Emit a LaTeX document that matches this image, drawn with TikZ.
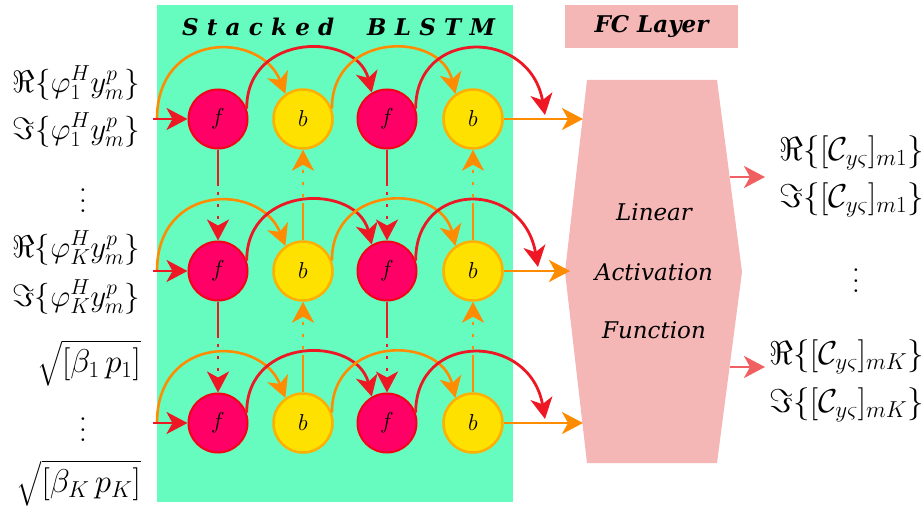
\RequirePackage{fix-cm}
\documentclass[tikz,border=0pt]{standalone}
\usepackage{graphicx}
\usepackage{exscale}
\usepackage{fontspec}
\newfontfamily\djs{DejaVu Serif}
\usetikzlibrary{arrows.meta,calc}
\definecolor{bggreen}{RGB}{102,252,192}
\definecolor{fcpink}{RGB}{245,182,182}
\definecolor{arcred}{RGB}{237,24,36}
\definecolor{arcorange}{RGB}{255,140,0}
\definecolor{ffill}{RGB}{255,0,102}
\definecolor{fborder}{RGB}{245,0,20}
\definecolor{bfill}{RGB}{255,225,0}
\definecolor{bborder}{RGB}{255,175,0}
\definecolor{outred}{RGB}{240,96,96}
\newcommand\myvdots{\scalebox{2.6}{$\vdots$}}
\begin{document}
\begin{tikzpicture}[x=1pt,y=-1pt,
  fnode/.style={circle, minimum size=59pt, inner sep=0pt, fill=ffill, draw=fborder, line width=2pt, font=\fontsize{23}{27}\selectfont},
  bnode/.style={circle, minimum size=59pt, inner sep=0pt, fill=bfill, draw=bborder, line width=2.5pt, font=\fontsize{23}{27}\selectfont},
  redl/.style={draw=arcred, line width=2.8pt},
  orl/.style={draw=arcorange, line width=2.6pt},
  outl/.style={draw=outred, line width=2.8pt},
  arr/.style={-{Stealth[length=21pt,width=22pt,inset=6pt]}},
  dotl/.style={dash pattern=on 3pt off 9pt, dash phase=6pt},
  lab/.style={anchor=east, inner sep=0pt, font=\fontsize{31}{36}\selectfont},
  sqlab/.style={anchor=east, inner sep=0pt, font=\fontsize{33}{38}\selectfont},
  rlab/.style={anchor=east, inner sep=0pt, font=\fontsize{33}{38}\selectfont},
  dotsn/.style={inner sep=0pt},
  fctext/.style={font=\djs\itshape\fontsize{23}{28}\selectfont},
  titletext/.style={font=\djs\bfseries\itshape\fontsize{23}{28}\selectfont},
]
\useasboundingbox (0,0) rectangle (923,508);
% backgrounds
\fill[bggreen] (157,5) rectangle (513,502);
\node[titletext, inner sep=0pt] (title) at (338.5,27) {\makebox[313pt][s]{S\hfill t\hfill a\hfill c\hfill k\hfill e\hfill d\hskip 0pt plus 4fill B\hfill L\hfill S\hfill T\hfill M}};
\node[fill=fcpink, minimum width=173pt, minimum height=43pt, titletext] (fctitle) at (651.5,26.5) {FC Layer};
\fill[fcpink] (587,80) -- (717,80) -- (742,272) -- (717,463) -- (587,463) -- (565,272) -- cycle;
\node[fctext] (t1) at (654,212) {Linear};
\node[fctext] (t2) at (654,272) {Activation};
\node[fctext] (t3) at (654,330) {Function};
% nodes
\foreach \r/\Y/\ex/\fx in {1/119/545/583, 2/271/538/570, 3/423/545/583}{
  \node[fnode] (f\r1) at (218,\Y) {$f$};
  \node[bnode] (b\r1) at (303,\Y) {$b$};
  \node[fnode] (f\r2) at (387,\Y) {$f$};
  \node[bnode] (b\r2) at (473,\Y) {$b$};
  \coordinate (in\r) at (153,\Y);
  \coordinate (os\r) at (157,\Y);
  \coordinate (re\r) at (\ex,\Y-4);
  \coordinate (fc\r) at (\fx,\Y);
}
% horizontal connections
\foreach \r in {1,2,3}{
  \draw[orl, arr] (os\r) .. controls ($(os\r)+(0,-88)$) and ($(b\r1.125)+(-25,-63)$) .. (b\r1.125);
  \draw[redl, arr] (in\r) -- (f\r1.west);
  \draw[redl, arr] (f\r1.20) .. controls ($(f\r1.20)+(0,-77)$) and ($(f\r2.120)+(-15,-61)$) .. (f\r2.120);
  \draw[orl, arr] (b\r1.20) .. controls ($(b\r1.20)+(0,-77)$) and ($(b\r2.125)+(-15,-63)$) .. (b\r2.125);
  \draw[redl, arr] (f\r2.20) .. controls ($(f\r2.20)+(0,-81)$) and ($(re\r)+(-15,-87)$) .. (re\r);
  \draw[orl, arr] (b\r2.east) -- (fc\r);
}
% vertical connections
\foreach \r/\n in {1/2,2/3}{
  \foreach \c in {1,2}{
    \draw[redl] (f\r\c.south) -- ++(0,36) coordinate (fm\r\c);
    \draw[redl, dotl, arr] (fm\r\c) -- (f\n\c.north);
    \draw[orl] (b\n\c.north) -- ++(0,-37) coordinate (bm\r\c);
    \draw[orl, dotl, arr] (bm\r\c) -- (b\r\c.south);
  }
}
% left labels
\node[lab] (l1) at (140,83) {$\Re\{\varphi_1^H y_m^p\}$};
\node[lab] (l2) at (140,130) {$\Im\{\varphi_1^H y_m^p\}$};
\node[dotsn] (l3) at (83,193) {\myvdots};
\node[lab] (l4) at (140,248) {$\Re\{\varphi_K^H y_m^p\}$};
\node[lab] (l5) at (140,297) {$\Im\{\varphi_K^H y_m^p\}$};
\node[sqlab] (l6) at (141,363) {$\sqrt{[\beta_1\,p_1]}$};
\node[dotsn] (l7) at (83,422) {\myvdots};
\node[sqlab] (l8) at (141,483) {$\sqrt{[\beta_K\,p_K]}$};
% right labels
\node[rlab] (r1) at (924,153) {$\Re\{[\mathcal{C}_{y\varsigma}]_{m1}\}$};
\node[rlab] (r2) at (924,200) {$\Im\{[\mathcal{C}_{y\varsigma}]_{m1}\}$};
\node[dotsn] (r3) at (856,273) {\myvdots};
\node[rlab] (r4) at (924,357) {$\Re\{[\mathcal{C}_{y\varsigma}]_{mK}\}$};
\node[rlab] (r5) at (924,405) {$\Im\{[\mathcal{C}_{y\varsigma}]_{mK}\}$};
% output arrows
\coordinate (o1) at (729.5,177);
\coordinate (oe1) at (765,177);
\coordinate (o2) at (729.5,367);
\coordinate (oe2) at (765,367);
\draw[outl, arr] (o1) -- (oe1);
\draw[outl, arr] (o2) -- (oe2);
\end{tikzpicture}
\end{document}
